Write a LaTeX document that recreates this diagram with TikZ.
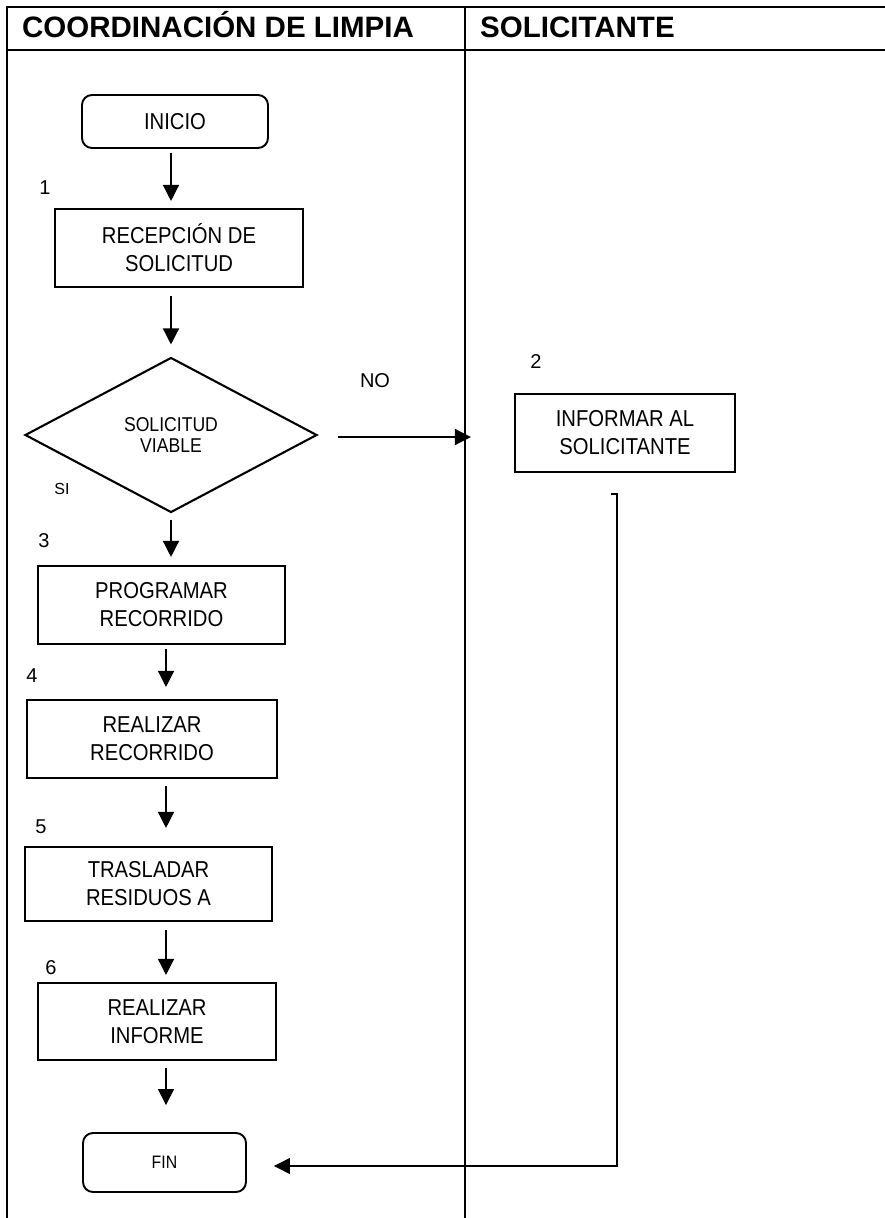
\documentclass[tikz,border=0pt]{standalone}
\usepackage{fontspec}
\setmainfont{Liberation Sans}
\newfontfamily\boxfont{Liberation Sans}[FakeStretch=0.88]
\usetikzlibrary{shapes.geometric,arrows.meta}

\begin{document}
\begin{tikzpicture}[x=1pt,y=-1pt,
  proc/.style={draw,line width=2.1pt,minimum height=78pt,inner sep=0pt,
    align=center,font=\boxfont\fontsize{23}{28}\selectfont},
  term/.style={draw,line width=1.9pt,rounded corners=10pt,inner sep=0pt,
    align=center,font=\boxfont\fontsize{23}{28}\selectfont},
  decide/.style={draw,line width=2.1pt,diamond,aspect=1.88,inner sep=0pt,
    minimum width=292pt,minimum height=155pt,align=center,
    font=\boxfont\fontsize{20}{21}\selectfont},
  stepnum/.style={inner sep=0pt,font=\fontsize{20}{22}\selectfont},
  flow/.style={-{Triangle[length=16pt,width=16pt]},line width=1.4pt},
  lane/.style={line width=2pt}]
  \useasboundingbox (0,0) rectangle (885,1218);

  % swimlanes
  \draw[lane] (885,7) -- (7,7) -- (7,1218);
  \draw[lane] (7,50) -- (885,50);
  \draw[lane] (465,7) -- (465,1218);
  \node[anchor=base west,inner sep=0pt,font=\bfseries\fontsize{29.5}{31}\selectfont] (hcoord) at (22,37) {COORDINACIÓN DE LIMPIA};
  \node[anchor=base west,inner sep=0pt,font=\bfseries\fontsize{29.5}{31}\selectfont] (hsol) at (480,37) {SOLICITANTE};

  % nodes
  \node[term,minimum width=186pt,minimum height=53pt] (inicio) at (175,121.5) {INICIO};
  \node[proc,minimum width=248pt] (recep) at (179,248) {RECEPCIÓN DE\\SOLICITUD};
  \node[decide] (viable) at (171,435) {SOLICITUD\\VIABLE};
  \node[proc,minimum width=220pt] (informar) at (625,433) {INFORMAR AL\\SOLICITANTE};
  \node[proc,minimum width=247pt] (programar) at (161.5,605) {PROGRAMAR\\RECORRIDO};
  \node[proc,minimum width=250pt] (realizar) at (152,739) {REALIZAR\\RECORRIDO};
  \node[proc,minimum width=247pt,minimum height=74pt] (trasladar) at (148.5,884) {TRASLADAR\\RESIDUOS A};
  \node[proc,minimum width=238pt,minimum height=77pt] (informe) at (157,1021.5) {REALIZAR\\INFORME};
  \node[term,minimum width=163pt,minimum height=59pt,font=\boxfont\fontsize{18}{20}\selectfont] (fin) at (164.5,1162.5) {FIN};

  \node[stepnum] (n1) at (45,188) {1};
  \node[stepnum] (n2) at (536,362) {2};
  \node[stepnum] (n3) at (44,541) {3};
  \node[stepnum] (n4) at (32,676) {4};
  \node[stepnum] (n5) at (41,827) {5};
  \node[stepnum] (n6) at (51,968) {6};
  \node[stepnum] (no) at (375,381) {NO};
  \node[inner sep=0pt,font=\fontsize{16}{18}\selectfont] (si) at (62,489) {SI};

  \coordinate (ret) at (611,494);

  % connectors
  \draw[flow,shorten <=4pt,shorten >=7pt] (inicio.south -| viable) -- (recep.north -| viable);
  \draw[flow,shorten <=8pt,shorten >=12pt] (recep.south -| viable) -- (viable.north);
  \draw[flow,shorten <=6pt,shorten >=8pt] (viable.south) -- (programar.north -| viable);
  \draw[flow,shorten <=4pt,shorten >=12pt] ([xshift=-5pt]programar.south -| viable) -- ([xshift=-5pt]realizar.north -| viable);
  \draw[flow,shorten <=7pt,shorten >=18pt] ([xshift=-5pt]realizar.south -| viable) -- ([xshift=-5pt]trasladar.north -| viable);
  \draw[flow,shorten <=8pt,shorten >=7pt] ([xshift=-5pt]trasladar.south -| viable) -- ([xshift=-5pt]informe.north -| viable);
  \draw[flow,shorten <=7pt,shorten >=27pt] ([xshift=-5pt]informe.south -| viable) -- ([xshift=-5pt]fin.north -| viable);
  \draw[flow,shorten <=20pt,shorten >=43pt] ([yshift=-2pt]viable.east) -- ([yshift=-2pt]viable.east -| informar.west);
  \draw[flow,line width=1.2pt,shorten >=27pt] (ret) -- ++(6,0) |- ([yshift=-3.5pt]fin.east);
\end{tikzpicture}
\end{document}
